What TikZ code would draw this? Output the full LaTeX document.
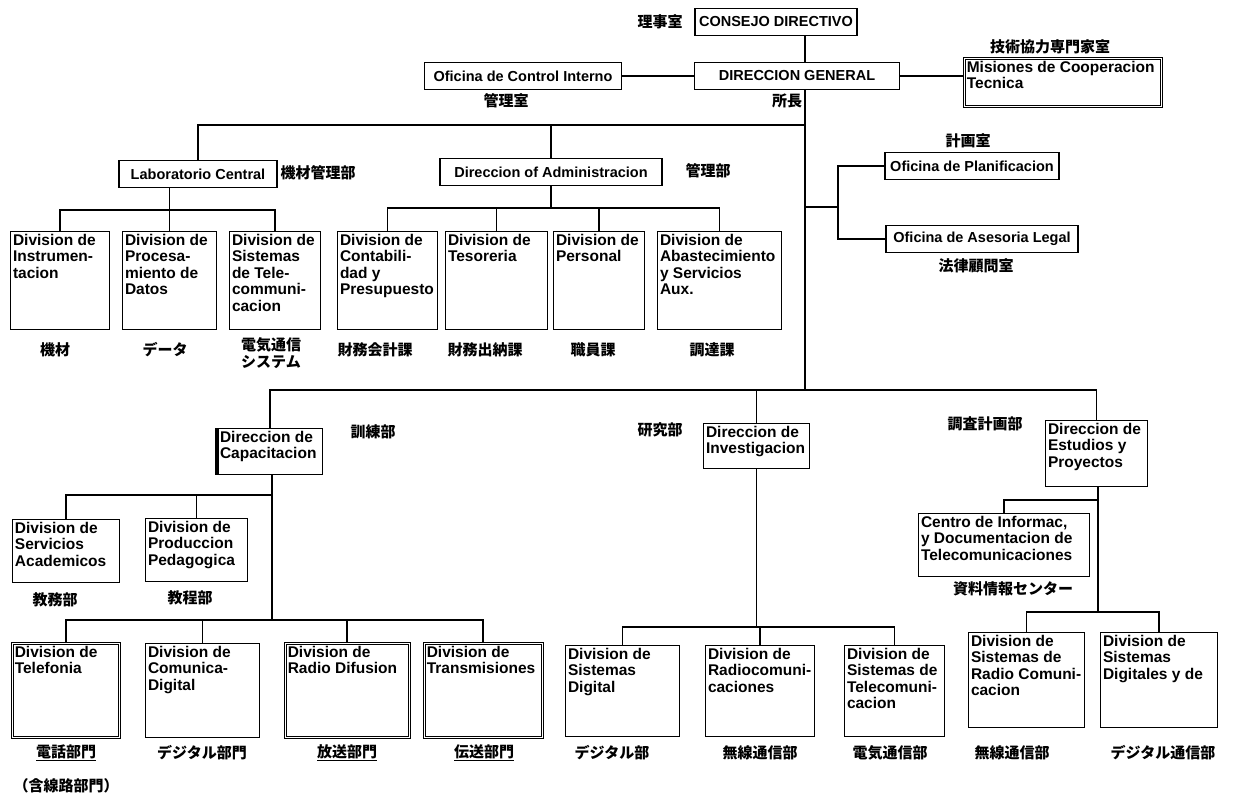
\documentclass[tikz,border=0pt]{standalone}
\usepackage{fontspec}
\setmainfont{Liberation Sans}
\newfontfamily\jpf{Noto Sans CJK JP}
\newcommand\BX[7][bx]{\node[#1] (#2) at (#3,#4) {\parbox[t][\dimexpr #6pt-6pt\relax][t]{\dimexpr #5pt-6pt\relax}{\raggedright #7}};}
\tikzset{
 bx/.style={draw, line width=1.4pt, inner sep=2.3pt, anchor=north west, font=\fontsize{15.5}{16.5}\selectfont\bfseries},
 dbx/.style={bx, double, double distance=1.2pt, line width=1pt},
 sb/.style={draw, line width=1.4pt, inner sep=3pt, minimum height=27pt, font=\fontsize{14.5}{16}\selectfont\bfseries},
 jl/.style={font=\jpf\bfseries\fontsize{15}{16.5}\selectfont, inner sep=0pt, align=center},
 ln/.style={line width=1.7pt},
}
\begin{document}
\begin{tikzpicture}[x=1pt,y=-1pt]
\useasboundingbox[fill=white] (0,0) rectangle (1251,796);
% top
\node[sb, minimum width=162pt] (cd) at (776,22) {CONSEJO DIRECTIVO};
\node[sb, minimum width=197pt] (oci) at (523,76) {Oficina de Control Interno};
\node[sb, minimum width=205pt] (dg) at (797,76) {DIRECCION GENERAL};
\BX[dbx]{mis}{964}{58}{198}{49}{Misiones de Cooperacion\\Tecnica}
\node[sb, minimum width=158pt] (lab) at (198,174) {Laboratorio Central};
\node[sb, minimum width=222pt] (adm) at (551,172) {Direccion of Administracion};
\node[sb, minimum width=174pt] (pl) at (972,166) {Oficina de Planificacion};
\node[sb, minimum width=192pt] (al) at (982,239) {Oficina de Asesoria Legal};
% level 3 left
\BX{i1}{10}{231}{100}{99}{Division de\\Instrumen-\\tacion}
\BX{i2}{122}{231}{95}{99}{Division de\\Procesa-\\miento de\\Datos}
\BX{i3}{229}{231}{92}{99}{Division de\\Sistemas\\de Tele-\\communi-\\cacion}
\BX{a1}{337}{231}{101}{99}{Division de\\Contabili-\\dad y\\Presupuesto}
\BX{a2}{445}{231}{103}{99}{Division de\\Tesoreria}
\BX{a3}{553}{231}{92}{99}{Division de\\Personal}
\BX{a4}{657}{231}{125}{99}{Division de\\Abastecimiento\\y Servicios\\Aux.}
% directions
\BX{cap}{217}{428}{106}{47}{Direccion de\\Capacitacion}
\BX{inv}{703}{423}{107}{46}{Direccion de\\Investigacion}
\BX{est}{1045}{420}{103}{67}{Direccion de\\Estudios y\\Proyectos}
\BX{s1}{12}{519}{108}{64}{Division de\\Servicios\\Academicos}
\BX{s2}{145}{518}{103}{64}{Division de\\Produccion\\Pedagogica}
\BX{ce}{918}{513}{172}{64}{Centro de Informac,\\y Documentacion de\\Telecomunicaciones}
% bottom
\BX[dbx]{b1}{12}{643}{108}{95}{Division de\\Telefonia}
\BX{b2}{145}{643}{115}{95}{Division de\\Comunica-\\Digital}
\BX[dbx]{b3}{285}{643}{125}{95}{Division de\\Radio Difusion}
\BX[dbx]{b4}{424}{643}{119}{95}{Division de\\Transmisiones}
\BX{c1}{565}{645}{115}{92}{Division de\\Sistemas\\Digital}
\BX{c2}{705}{645}{110}{92}{Division de\\Radiocomuni-\\caciones}
\BX{c3}{844}{645}{101}{92}{Division de\\Sistemas de\\Telecomuni-\\cacion}
\BX{d1}{968}{632}{117}{96}{Division de\\Sistemas de\\Radio Comuni-\\cacion}
\BX{d2}{1100}{632}{118}{96}{Division de\\Sistemas\\Digitales y de}
\draw[line width=3.2pt] (cap.north west) -- (cap.south west);
% coordinates
\coordinate (tA) at (805,125);
\coordinate (tB) at (805,207);
\coordinate (tC) at (805,390);
\coordinate (pB) at (838,207);
\coordinate (lb) at (169.5,210);
\coordinate (ab) at (551,208);
\coordinate (cb) at (272,495);
\coordinate (cb2) at (272,620);
\coordinate (ib) at (757,627);
\coordinate (eb) at (1098,500);
\coordinate (eb2) at (1098,612);
% connectors
\draw[ln] (cd.south -| tA) -- (dg.north -| tA);
\draw[ln] (oci.east) -- (dg.west);
\draw[ln] (dg.east) -- (dg.east -| mis.west);
\draw[ln] (dg.south -| tA) -- (tC);
\draw[ln] (tA) -| (lab.north);
\draw[ln] (adm.north) -- (adm.north |- tA);
\draw[ln] (lab.south -| lb) -- (i2.north -| lb);
\draw[ln] (i1.north) |- (i3.north |- lb) -- (i3.north);
\draw[ln] (adm.south) -- (ab);
\draw[ln] (a1.north) |- (a4.north |- ab) -- (a4.north);
\draw[ln] (a2.north) -- (a2.north |- ab);
\draw[ln] (a3.north) -- (a3.north |- ab);
\draw[ln] (tB) -- (pB);
\draw[ln] (pl.west) -| (pB) |- (al.west);
\draw[ln] (cap.north) |- (est.north |- tC) -- (est.north);
\draw[ln] (inv.north) -- (inv.north |- tC);
\draw[ln] (cap.south -| cb) -- (cb2);
\draw[ln] (s1.north) |- (cb);
\draw[ln] (s2.north) -- (s2.north |- cb);
\draw[ln] (b1.north) |- (b4.north |- cb2) -- (b4.north);
\draw[ln] (b2.north) -- (b2.north |- cb2);
\draw[ln] (b3.north) -- (b3.north |- cb2);
\draw[ln] (inv.south) -- (inv.south |- ib);
\draw[ln] (c1.north) |- (c3.north |- ib) -- (c3.north);
\draw[ln] (c2.north) -- (c2.north |- ib);
\draw[ln] (est.south -| eb) -- (eb2);
\draw[ln] (eb) -| (ce.north);
\draw[ln] (d1.north) |- (d2.north |- eb2) -- (d2.north);
% japanese labels
\node[jl] (j1) at (660,22) {理事室};
\node[jl] (j2) at (1050,47) {技術協力専門家室};
\node[jl] (j3) at (506,101) {管理室};
\node[jl] (j4) at (787,101) {所長};
\node[jl] (j5) at (318,173) {機材管理部};
\node[jl] (j6) at (708,171) {管理部};
\node[jl] (j7) at (968,141) {計画室};
\node[jl] (j8) at (976,266) {法律顧問室};
\node[jl] (j9) at (55,350) {機材};
\node[jl] (j10) at (165,350) {データ};
\node[jl] (j11) at (271,353) {電気通信\\システム};
\node[jl] (j12) at (375,350) {財務会計課};
\node[jl] (j13) at (485,350) {財務出納課};
\node[jl] (j14) at (593,350) {職員課};
\node[jl] (j15) at (712,350) {調達課};
\node[jl] (j16) at (373,432) {訓練部};
\node[jl] (j17) at (660,430) {研究部};
\node[jl] (j18) at (985,424) {調査計画部};
\node[jl] (j19) at (55,600) {教務部};
\node[jl] (j20) at (190,598) {教程部};
\node[jl] (j21) at (1013,589) {資料情報センター};
\node[jl] (j22) at (66,753) {\underline{電話部門}};
\node[jl] (j23) at (66,786) {（含線路部門）};
\node[jl] (j24) at (202,753) {デジタル部門};
\node[jl] (j25) at (347,753) {\underline{放送部門}};
\node[jl] (j26) at (484,753) {\underline{伝送部門}};
\node[jl] (j27) at (612,753) {デジタル部};
\node[jl] (j28) at (760,753) {無線通信部};
\node[jl] (j29) at (890,753) {電気通信部};
\node[jl] (j30) at (1012,753) {無線通信部};
\node[jl] (j31) at (1163,753) {デジタル通信部};
\end{tikzpicture}
\end{document}
